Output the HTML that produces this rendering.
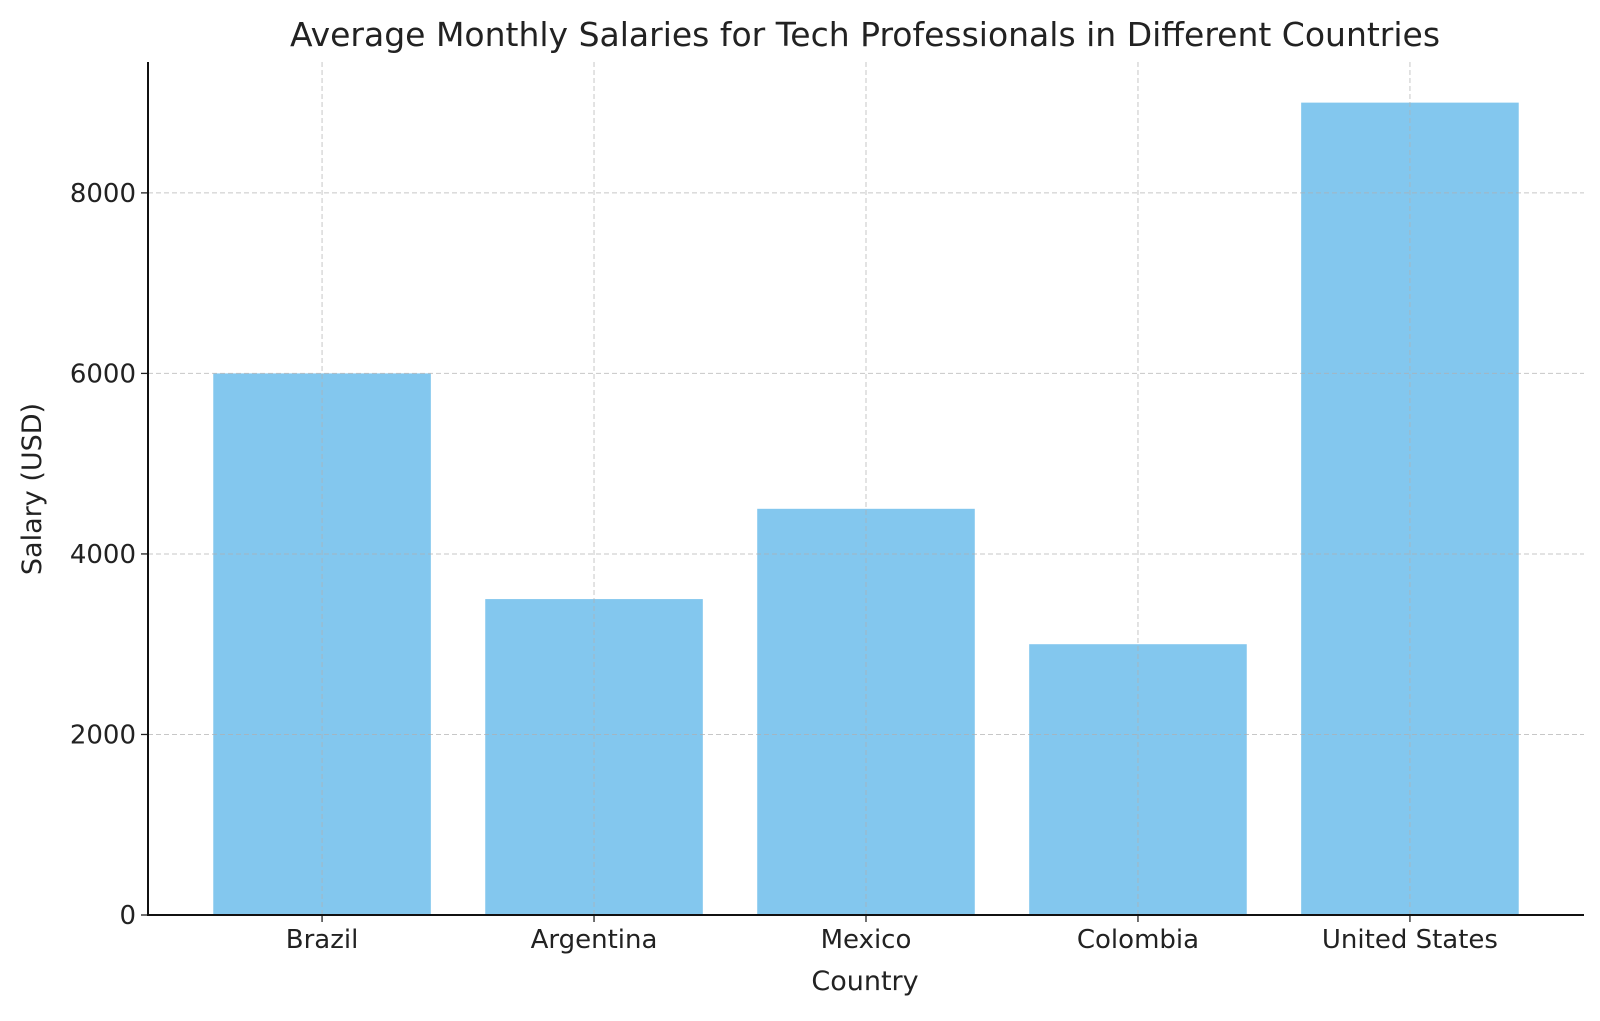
<!DOCTYPE html>
<html><head><meta charset="utf-8"><style>
html,body{margin:0;padding:0;background:#fff;}
svg text{font-family:"DejaVu Sans","Liberation Sans",sans-serif;fill:#222;}
</style></head><body>
<svg id="chart" width="1600" height="1016" viewBox="0 0 1600 1016" xmlns="http://www.w3.org/2000/svg">
<text x="865" y="46" font-size="33" text-anchor="middle">Average Monthly Salaries for Tech Professionals in Different Countries</text>
<g id="bars"></g><g id="grid"></g><g id="axes"></g>
<text x="865" y="990" font-size="27" text-anchor="middle">Country</text>
<text transform="translate(41,489) rotate(-90)" font-size="27" text-anchor="middle">Salary (USD)</text>
</svg>
<script>
const categories=["Brazil","Argentina","Mexico","Colombia","United States"];
const salaries=[6000,3500,4500,3000,9000];
const yTicks=[0,2000,4000,6000,8000];
const NS="http://www.w3.org/2000/svg";
const L=148,R=1584,T=62,B=915;
const xMin=-0.64,xMax=categories.length-1+0.64;
const yMax=Math.max(...salaries)*1.05;
const xs=i=>L+(i-xMin)/(xMax-xMin)*(R-L);
const ys=v=>B-v/yMax*(B-T);
const bw=0.8*(xs(1)-xs(0));
function mk(t,a,p){const e=document.createElementNS(NS,t);for(const k in a)e.setAttribute(k,a[k]);p.appendChild(e);return e;}
const bars=document.getElementById('bars'),grid=document.getElementById('grid'),axes=document.getElementById('axes');
salaries.forEach((v,i)=>{
 const r=mk('rect',{x:xs(i)-bw/2,y:ys(v),width:bw,height:B-ys(v),fill:'#83c7ee'},bars);
 
 
});
categories.forEach((c,i)=>{
 const g=mk('line',{x1:xs(i),x2:xs(i),y1:T,y2:B,stroke:'#b0b0b0','stroke-width':1,'stroke-dasharray':'5,3',opacity:0.7},grid);
 
 
 mk('line',{x1:xs(i),x2:xs(i),y1:B,y2:B+7,stroke:'#222','stroke-width':1.3},axes);
 const t=mk('text',{x:xs(i),y:B+33,'font-size':26,'text-anchor':'middle'},axes);
 t.textContent=c;
 
 
});
yTicks.forEach(v=>{
 if(v>0){const g=mk('line',{x1:L,x2:R,y1:ys(v),y2:ys(v),stroke:'#b0b0b0','stroke-width':1,'stroke-dasharray':'5,3',opacity:0.7},grid);
 
 }
 mk('line',{x1:L-7,x2:L,y1:ys(v),y2:ys(v),stroke:'#222','stroke-width':1.3},axes);
 const t=mk('text',{x:L-12,y:ys(v)+9,'font-size':26,'text-anchor':'end'},axes);
 t.textContent=v;
 
 
});
const ya=mk('line',{x1:L,x2:L,y1:T,y2:B+1,stroke:'#111','stroke-width':2},axes);


const xa=mk('line',{x1:L-1,x2:R,y1:B,y2:B,stroke:'#111','stroke-width':2},axes);


</script>
</body></html>
